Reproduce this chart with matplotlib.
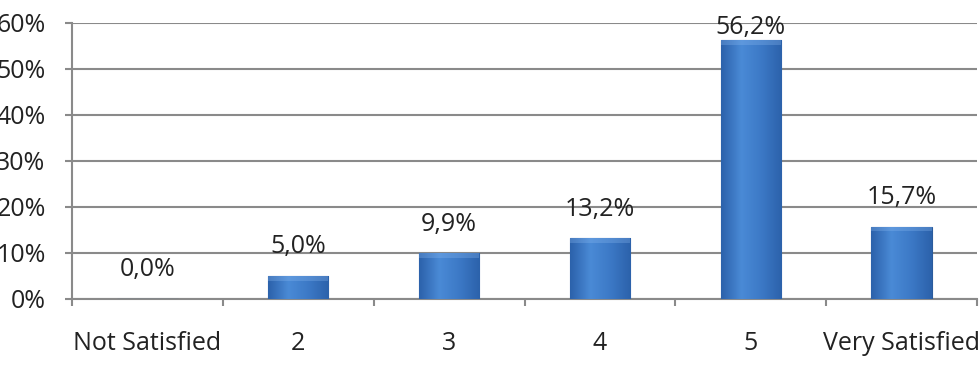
import numpy as np
import matplotlib.pyplot as plt
from matplotlib.colors import LinearSegmentedColormap

# data
categories = ['Not Satisfied', '2', '3', '4', '5', 'Very Satisfied']
values = [0.0, 5.0, 9.9, 13.2, 56.2, 15.7]
value_labels = ['0,0%', '5,0%', '9,9%', '13,2%', '56,2%', '15,7%']
y_ticks = [0, 10, 20, 30, 40, 50, 60]

plt.rcParams['font.family'] = ['Open Sans', 'DejaVu Sans']
grey = '#8a8a8a'
fs = 18

fig = plt.figure(figsize=(9.8, 3.65), dpi=100)
ax = fig.add_axes([0.0735, 0.181, 0.9235, 0.756])

x = np.arange(len(categories))
bars = ax.bar(x, values, width=0.4, color='#3b76c3', edgecolor='#2a5b9c',
              linewidth=0.8, zorder=3)

# horizontal shading inside each bar
cmap = LinearSegmentedColormap.from_list('b', ['#2c62ab', '#4a8ad6', '#3c79c6', '#2c62ab'])
grad = np.linspace(0, 1, 64).reshape(1, -1)
for b in bars:
    if b.get_height() <= 0:
        continue
    x0, y0 = b.get_x(), b.get_y()
    w, h = b.get_width(), b.get_height()
    im = ax.imshow(grad, cmap=cmap, aspect='auto', extent=[x0, x0 + w, y0, y0 + h],
                   zorder=3.5, interpolation='bicubic')
    im.set_clip_path(b)
    # light bevel along the top
    ax.fill_between([x0, x0 + w], y0 + h - min(h, 1.0), y0 + h, color='#8cbaf0',
                    alpha=0.3, lw=0, zorder=3.6)

for xi, v, lab in zip(x, values, value_labels):
    off = 21 if v < 50 else 9
    ax.annotate(lab, (xi, v), xytext=(0, off), textcoords='offset points',
                ha='center', va='center', fontsize=fs, color='#222222',
                annotation_clip=False)

ax.set_xlim(-0.5, len(categories) - 0.5)
ax.set_ylim(0, 60)
ax.set_yticks(y_ticks)
ax.set_yticklabels([f'{t}%' for t in y_ticks])
ax.set_xticks(x)
ax.set_xticklabels(categories)
ax.set_xticks(np.arange(len(categories) + 1) - 0.5, minor=True)

ax.grid(axis='y', color=grey, linewidth=1.5, zorder=0)
for s in ['top', 'right']:
    ax.spines[s].set_visible(False)
for s in ['left', 'bottom']:
    ax.spines[s].set_color(grey)
    ax.spines[s].set_linewidth(1.5)

ax.tick_params(axis='y', length=5, width=1.5, color=grey, pad=14, labelsize=fs,
               labelcolor='#222222')
ax.tick_params(axis='x', which='major', length=0, pad=23, labelsize=fs,
               labelcolor='#222222')
ax.tick_params(axis='x', which='minor', length=5, width=1.5, color=grey)

fig.savefig('out.png', dpi=100)
